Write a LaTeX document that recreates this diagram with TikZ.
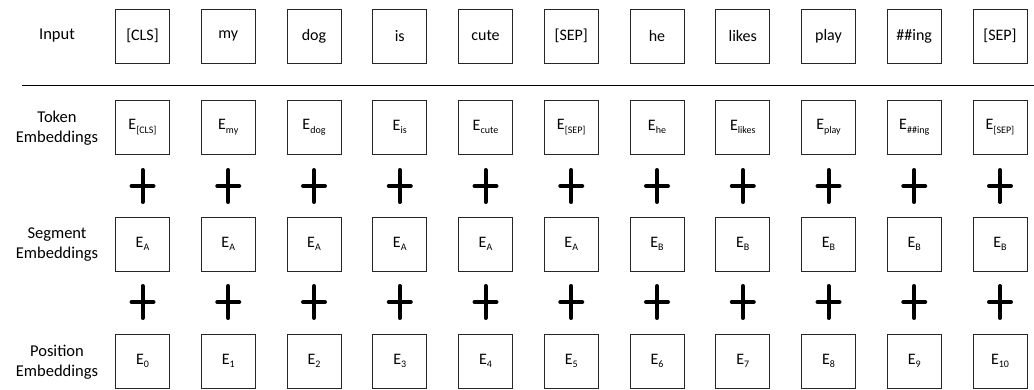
\documentclass[tikz,border=0pt]{standalone}
\usepackage{fontspec}
\setmainfont{Carlito}
\newcommand{\Esb}[1]{E\raisebox{-0.22em}{\fontsize{10}{12}\selectfont #1}}
\tikzset{
  tokbox/.style={draw=black!85, line width=0.8pt, minimum width=54pt, minimum height=54pt, inner sep=0pt, font=\fontsize{16}{19}\selectfont},
  rowlabel/.style={align=center, font=\fontsize{16.5}{20}\selectfont},
  plusline/.style={line width=4pt, line cap=round}
}
\begin{document}
\begin{tikzpicture}[x=1pt,y=-1pt]
\useasboundingbox (0,0) rectangle (1034,390);
\node[rowlabel] (lin) at (57,36) {Input};
\node[rowlabel] (ltok) at (57,128) {Token\\Embeddings};
\node[rowlabel] (lseg) at (57,245) {Segment\\Embeddings};
\node[rowlabel] (lpos) at (57,362) {Position\\Embeddings};
\coordinate (ls) at (22,86);
\coordinate (le) at (1034,86);
\draw[line width=1pt] (ls) -- (le);
\foreach \i/\w/\t/\s in {0/{[CLS]}/{[CLS]}/A, 1/my/my/A, 2/dog/dog/A, 3/is/is/A, 4/cute/cute/A, 5/{[SEP]}/{[SEP]}/A, 6/he/he/B, 7/likes/likes/B, 8/play/play/B, 9/{\#\#ing}/{\#\#ing}/B, 10/{[SEP]}/{[SEP]}/B}{
  \pgfmathsetmacro{\cx}{142.5+85.75*\i}
  \node[tokbox] (in\i) at (\cx,36) {\w};
  \node[tokbox] (tk\i) at (\cx,127) {\Esb{\t}};
  \node[tokbox] (sg\i) at (\cx,244) {\Esb{\s}};
  \node[tokbox] (ps\i) at (\cx,361) {\Esb{\i}};
  \coordinate (pa\i) at (\cx,186);
  \coordinate (pb\i) at (\cx,302);
  \draw[plusline] ([yshift=-16pt]pa\i) -- ([yshift=16pt]pa\i);
  \draw[plusline] ([xshift=-11pt]pa\i) -- ([xshift=11pt]pa\i);
  \draw[plusline] ([yshift=-16pt]pb\i) -- ([yshift=16pt]pb\i);
  \draw[plusline] ([xshift=-11pt]pb\i) -- ([xshift=11pt]pb\i);
}
\end{tikzpicture}
\end{document}
